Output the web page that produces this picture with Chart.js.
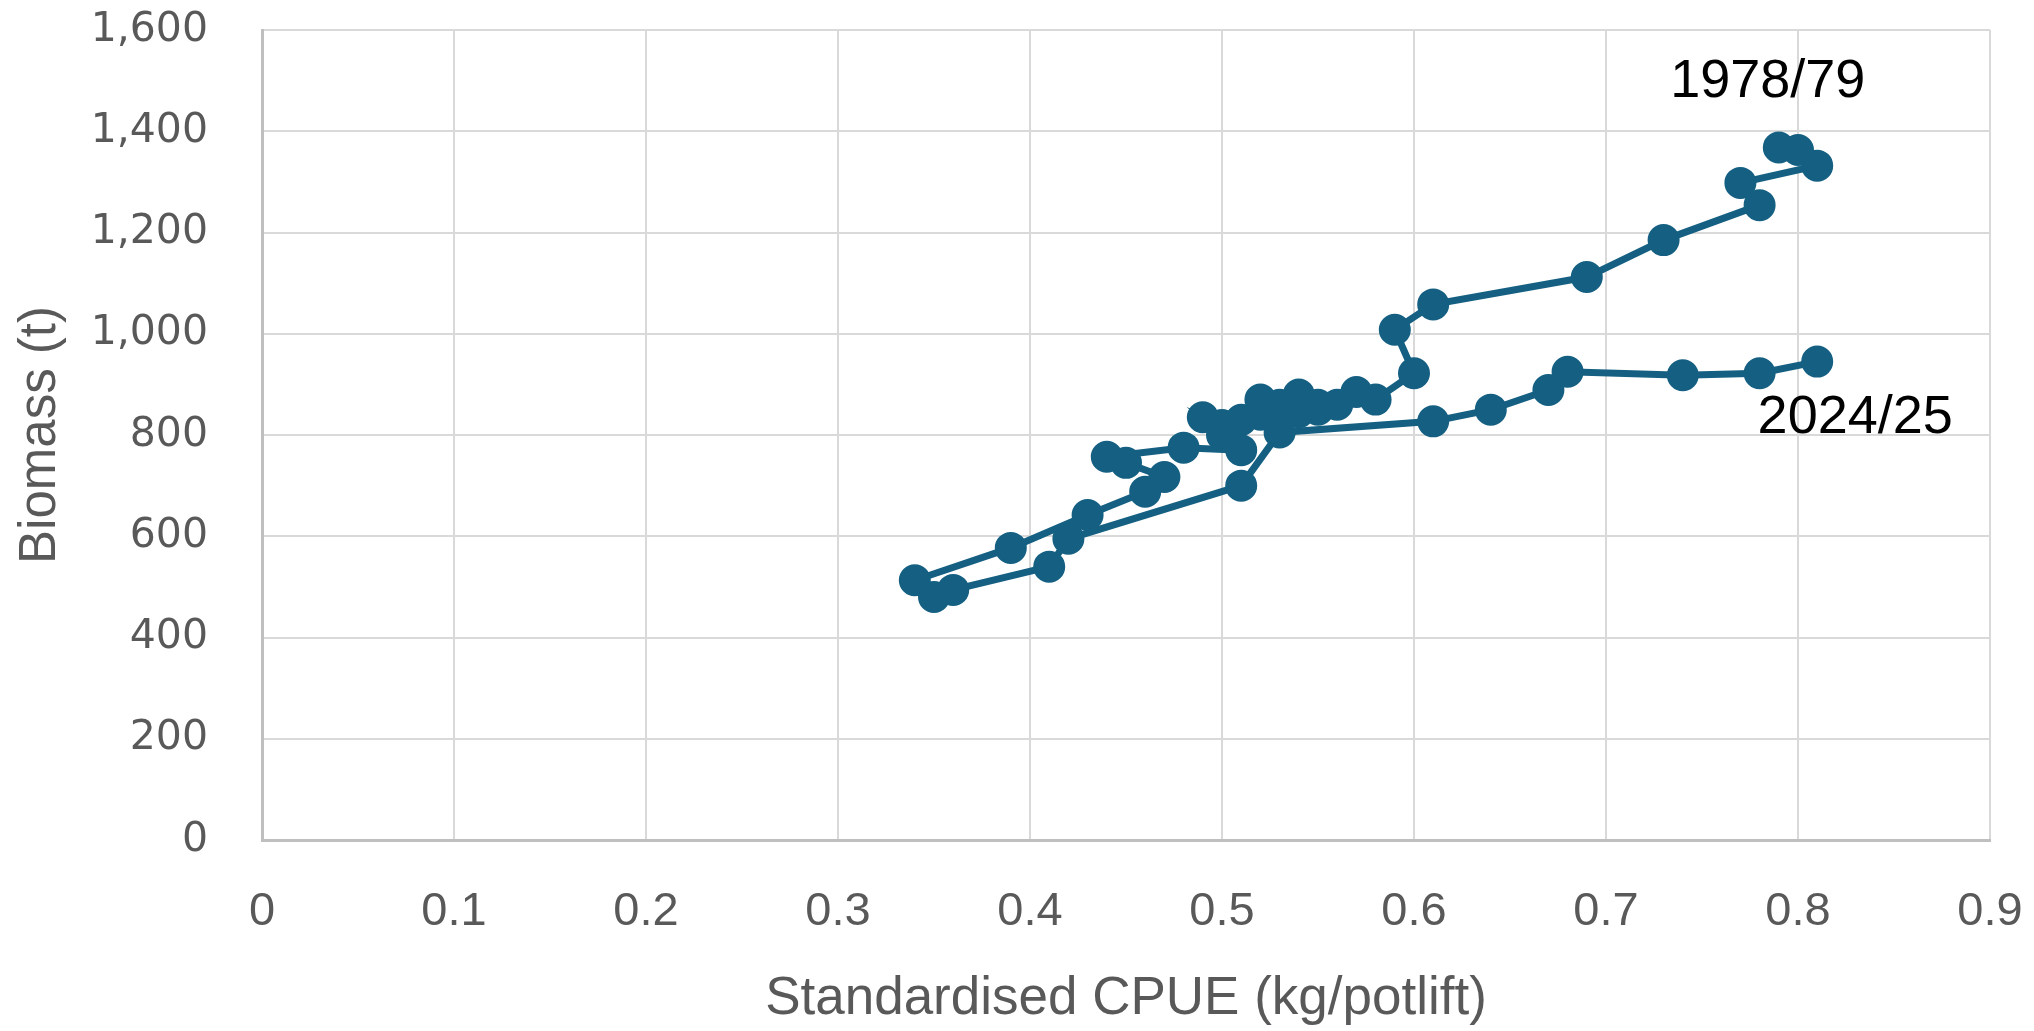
<!DOCTYPE html>
<html>
<head>
<meta charset="utf-8">
<script src="https://cdn.jsdelivr.net/npm/chart.js@4/dist/chart.umd.min.js"></script>
<style>
  html, body { margin: 0; padding: 0; background: #ffffff; }
  #wrap { width: 2034px; height: 1031px; position: relative; }
</style>
</head>
<body>
<div id="wrap"><canvas id="c" width="2034" height="1031"></canvas></div>
<script>
// Standardised CPUE (kg/potlift), seasons 1978/79 ... 2024/25
const cpue = [0.79, 0.80, 0.81, 0.77, 0.78, 0.73, 0.69, 0.61, 0.59, 0.60,
              0.58, 0.57, 0.56, 0.55, 0.54, 0.53, 0.55, 0.54, 0.52, 0.52,
              0.53, 0.51, 0.50, 0.49, 0.50, 0.51, 0.48, 0.44, 0.45, 0.47,
              0.46, 0.43, 0.39, 0.34, 0.35, 0.36, 0.41, 0.42, 0.51, 0.53,
              0.61, 0.64, 0.67, 0.68, 0.74, 0.78, 0.81];
// Biomass (t)
const biomass = [1368, 1363, 1332, 1298, 1254, 1185, 1112, 1058, 1008, 922,
                 870, 885, 860, 860, 880, 860, 850, 845, 870, 840,
                 835, 830, 820, 835, 800, 770, 775, 757, 745, 717,
                 688, 642, 577, 513, 480, 494, 540, 595, 700, 805,
                 827, 850, 889, 925, 918, 922, 945];
const firstLabel = '1978/79';
const lastLabel = '2024/25';
const xTicks = [0, 0.1, 0.2, 0.3, 0.4, 0.5, 0.6, 0.7, 0.8, 0.9];
const yTicks = [0, 200, 400, 600, 800, 1000, 1200, 1400, 1600];

const points = cpue.map((v, i) => ({ x: v, y: biomass[i] }));
const seriesColor = '#156082';
const textGray = '#595959';

const endLabels = {
  id: 'endLabels',
  afterDatasetsDraw(chart) {
    const { ctx, scales } = chart;
    const n = cpue.length;
    ctx.save();
    ctx.fillStyle = '#000000';
    ctx.font = '54px "Liberation Sans", Arial, sans-serif';
    ctx.textAlign = 'center';
    ctx.textBaseline = 'middle';
    const x0 = scales.x.getPixelForValue(cpue[0]);
    const y0 = scales.y.getPixelForValue(biomass[0]);
    ctx.fillText(firstLabel, x0 - 11, y0 - 65);
    const x1 = scales.x.getPixelForValue(cpue[n - 1]);
    const y1 = scales.y.getPixelForValue(biomass[n - 1]);
    ctx.fillText(lastLabel, x1 + 38, y1 + 57);
    ctx.restore();
  }
};

new Chart(document.getElementById('c'), {
  type: 'scatter',
  data: {
    datasets: [{
      data: points,
      showLine: true,
      borderColor: seriesColor,
      backgroundColor: seriesColor,
      borderWidth: 7,
      pointRadius: 15,
      pointBorderWidth: 2,
      pointBorderColor: seriesColor,
      pointBackgroundColor: seriesColor,
      tension: 0
    }]
  },
  options: {
    responsive: false,
    animation: false,
    devicePixelRatio: 1,
    layout: { padding: { left: 0, right: 44, top: 30, bottom: 0 } },
    plugins: { legend: { display: false }, tooltip: { enabled: false } },
    scales: {
      x: {
        type: 'linear',
        min: 0, max: 0.9,
        afterBuildTicks: s => { s.ticks = xTicks.map(v => ({ value: v })); },
        afterFit: s => { s.height = 191; s.paddingLeft = 0; s.paddingRight = 0; },
        grid: { color: '#d9d9d9', lineWidth: 2, drawTicks: false },
        border: { color: '#bfbfbf', width: 3 },
        ticks: {
          padding: 44,
          color: textGray,
          font: { family: "'Liberation Sans Narrow', 'Liberation Sans', Arial, sans-serif", size: 47 },
          callback: v => String(Math.round(v * 10) / 10)
        },
        title: {
          display: true,
          text: 'Standardised CPUE (kg/potlift)',
          color: textGray,
          font: { family: "'Liberation Sans Narrow', 'Liberation Sans', Arial, sans-serif", size: 53 },
          padding: { top: 0, bottom: 0 }
        }
      },
      y: {
        type: 'linear',
        min: 0, max: 1600,
        afterBuildTicks: s => { s.ticks = yTicks.map(v => ({ value: v })); },
        afterFit: s => { s.width = 262; s.paddingTop = 0; s.paddingBottom = 0; },
        grid: { color: '#d9d9d9', lineWidth: 2, drawTicks: false },
        border: { color: '#bfbfbf', width: 3 },
        ticks: {
          padding: 54,
          color: textGray,
          font: { family: "'DejaVu Sans', sans-serif", size: 41 },
          callback: v => v.toLocaleString('en-US')
        },
        title: {
          display: true,
          text: 'Biomass (t)',
          color: textGray,
          font: { family: "'Liberation Sans Narrow', 'Liberation Sans', Arial, sans-serif", size: 51 },
          padding: { top: 10, bottom: 0 }
        }
      }
    }
  },
  plugins: [endLabels]
});
</script>
</body>
</html>
